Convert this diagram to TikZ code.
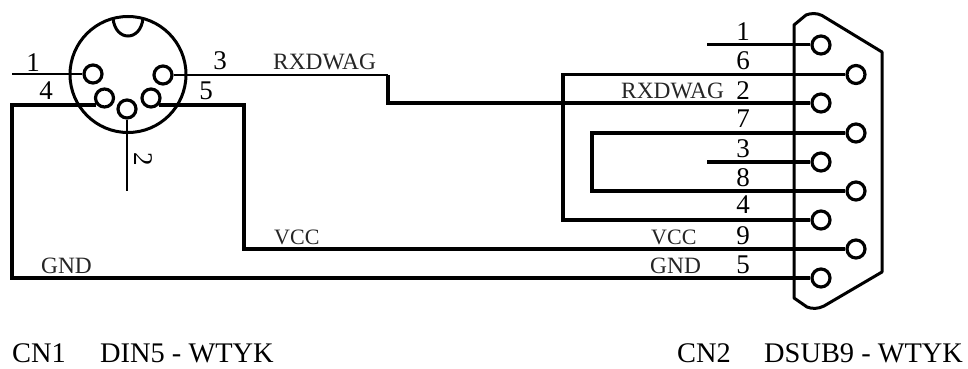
\documentclass[tikz,border=0pt]{standalone}
\usepackage{fontspec}
\setmainfont{Liberation Serif}
\begin{document}
\begin{tikzpicture}[x=1pt,y=-1pt,
  thinw/.style={line width=2.6pt,line cap=butt,line join=miter},
  midw/.style={line width=3pt,line cap=butt,line join=miter},
  railw/.style={line width=3.4pt,line cap=butt,line join=miter},
  thickw/.style={line width=3.8pt,line cap=butt,line join=miter},
  pinc/.style={circle,draw,line width=3.2pt,minimum size=18pt,inner sep=0pt,fill=white},
  body/.style={line width=3pt,line join=round},
  num/.style={font=\fontsize{27}{27}\selectfont,inner sep=0pt,anchor=base},
  sig/.style={font=\fontsize{23.4}{24}\selectfont,inner sep=0pt,anchor=base west,text=black!85},
  sigv/.style={font=\fontsize{22}{24}\selectfont,inner sep=0pt,anchor=base west,text=black!85},
  captext/.style={font=\fontsize{28.4}{29}\selectfont,inner sep=0pt,anchor=base west}]
\useasboundingbox (0,0) rectangle (968,369);
\fill[white] (0,0) rectangle (968,369);
% D-sub body
\draw[body] (794,298) -- (794,25) -- (806,15) .. controls (811,13) and (817,13) .. (822,15.5)
  -- (882,52) -- (882,272) -- (824,306) .. controls (818,309) and (812,309) .. (807,307) -- cycle;
% DIN shell
\node[circle,draw,line width=3pt,minimum size=116pt,inner sep=0pt] (shell) at (128,74.5) {};
\draw[line width=3pt] (113,18) .. controls (114,30) and (121,36) .. (128,36)
  .. controls (135,36) and (142,30) .. (143,18);
% pins
\node[pinc] (a1) at (93,74) {};
\node[pinc] (a3) at (163,75) {};
\node[pinc] (a4) at (104.5,98) {};
\node[pinc] (a5) at (151,98) {};
\node[pinc] (a2) at (127,109) {};
\node[pinc] (d1) at (821,45) {};
\node[pinc] (d6) at (856,74.5) {};
\node[pinc] (d2) at (821,103) {};
\node[pinc] (d7) at (856,133) {};
\node[pinc] (d3) at (821,162) {};
\node[pinc] (d8) at (856,191) {};
\node[pinc] (d4) at (821,220) {};
\node[pinc] (d9) at (856,249) {};
\node[pinc] (d5) at (821,278) {};
% free ends and bends
\coordinate (e1) at (12,74);
\coordinate (e2) at (127,191);
\coordinate (b3) at (388,75);
\coordinate (b3b) at (388,103);
\coordinate (v5) at (244,176);
\coordinate (v4) at (12,190);
\coordinate (v6) at (563,150);
\coordinate (v7) at (592,160);
\coordinate (f1) at (707,45);
\coordinate (f3) at (707,162);
% wires
\draw[thinw] (e1) -- (a1.west);
\draw[thinw] (a2.south) -- (e2);
\draw[thinw] (a3.east) -- (b3);
\draw[thickw] (b3) -- (b3b) -- (d2.west);
\draw[railw] (a4.220) -| (v4) |- (d5.west);
\draw[railw] (a5.-40) -| (v5) |- (d9.west);
\draw[midw] (f1) -- (d1.west);
\draw[thickw] (f3) -- (d3.west);
\draw[thickw] (d6.west) -| (v6) |- (d4.west);
\draw[thickw] (d7.west) -| (v7) |- (d8.west);
% DIN numbers
\node[num] (n1) at (33,71) {1};
\node[num] (n4) at (46,99) {4};
\node[num] (n3) at (220,70) {3};
\node[num] (n5) at (206,99) {5};
\node[num,anchor=center,rotate=-90] (n2) at (143,159) {2};
% DSUB numbers
\node[num] (m1) at (743,41) {1};
\node[num] (m6) at (743,70) {6};
\node[num] (m2) at (743,99) {2};
\node[num] (m7) at (743,127) {7};
\node[num] (m3) at (743,157) {3};
\node[num] (m8) at (743,186) {8};
\node[num] (m4) at (743,213) {4};
\node[num] (m9) at (743,244) {9};
\node[num] (m5) at (743,273) {5};
% signals
\node[sig] (s1) at (273,70) {RXDWAG};
\node[sig] (s2) at (621,98) {RXDWAG};
\node[sigv] (s3) at (274,244) {VCC};
\node[sigv] (s4) at (651,244) {VCC};
\node[sig] (s5) at (41,273) {GND};
\node[sig] (s6) at (650,273) {GND};
% captions
\node[captext] (c1) at (12,362.5) {CN1};
\node[captext] (c2) at (100,362.5) {DIN5 - WTYK};
\node[captext] (c3) at (677,362.5) {CN2};
\node[captext] (c4) at (764,362.5) {DSUB9 - WTYK};
\end{tikzpicture}
\end{document}
